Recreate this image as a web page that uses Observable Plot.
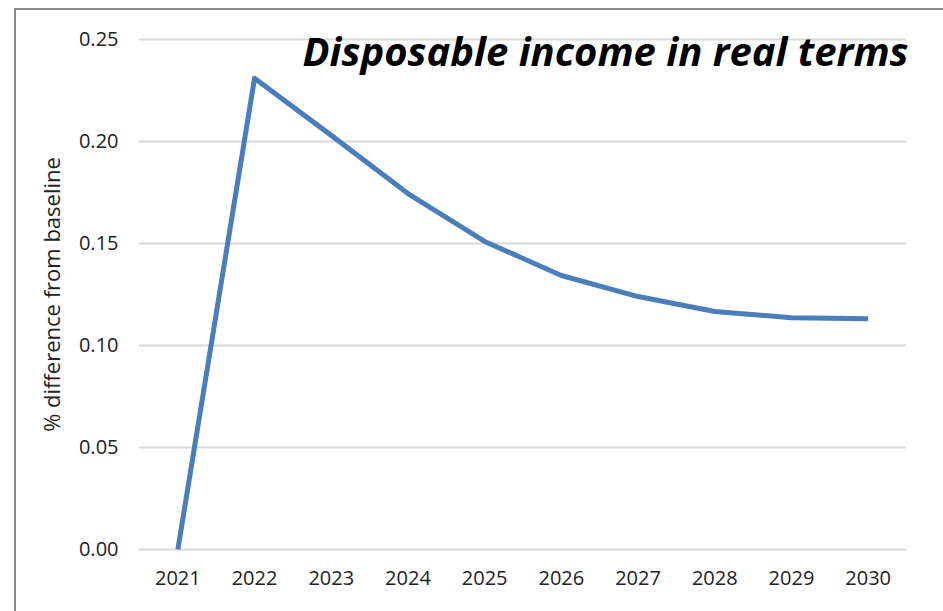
<!DOCTYPE html>
<html>
<head>
<meta charset="utf-8">
<script src="https://cdn.jsdelivr.net/npm/d3@7"></script>
<script src="https://cdn.jsdelivr.net/npm/@observablehq/plot@0.6"></script>
<style>
  html, body { margin: 0; padding: 0; background: #fff; overflow: hidden; width: 943px; height: 611px; }
  #wrap { position: relative; width: 943px; height: 611px; }
  #border { position: absolute; left: 14px; top: 8px; width: 1000px; height: 700px;
            border-left: 2px solid #8a8a8a; border-top: 2px solid #8a8a8a; }
  #chart { position: absolute; left: 0; top: 0; }
</style>
</head>
<body>
<div id="wrap"><div id="border"></div><div id="chart"></div></div>
<script>
const years = ["2021","2022","2023","2024","2025","2026","2027","2028","2029","2030"];
const values = [0.000, 0.231, 0.203, 0.1745, 0.151, 0.1343, 0.124, 0.1167, 0.1136, 0.1131];
const yTicks = [0, 0.05, 0.10, 0.15, 0.20, 0.25];
const titleText = ["Disposable income in real terms"];
const yLabel = "% difference from baseline";

const data = years.map((y, i) => ({year: y, value: values[i]}));

const chart = Plot.plot({
  width: 943,
  height: 611,
  marginLeft: 139,
  marginRight: 37,
  marginTop: 39,
  marginBottom: 62,
  style: {fontFamily: "'Open Sans', sans-serif", fontSize: "20px", color: "#222", background: "transparent"},
  x: {type: "point", domain: years, padding: 0.5, round: false},
  y: {domain: [0, 0.25]},
  marks: [
    Plot.gridY(yTicks, {stroke: "#d9d9d9", strokeOpacity: 1, strokeWidth: 2}),
    Plot.axisY(yTicks, {tickSize: 0, tickPadding: 21, tickFormat: d => d.toFixed(2), fontSize: 20,
      label: null}),
    Plot.text([yLabel], {text: d => d, frameAnchor: "left", dx: -87, dy: 0, rotate: -90, textAnchor: "middle",
      lineAnchor: "middle", fontSize: 22, fill: "#222"}),
    Plot.axisX({tickSize: 0, tickPadding: 21, fontSize: 20, label: null}),
    Plot.line(data, {x: "year", y: "value", stroke: "#4a7ebb", strokeWidth: 5, strokeLinejoin: "round", strokeLinecap: "butt"}),
    Plot.text(titleText, {text: d => d, frameAnchor: "top-right", dx: 2, dy: 14, textAnchor: "end", lineAnchor: "middle",
      fontSize: 40, fontWeight: "bold", fontStyle: "italic", fill: "#000"})
  ]
});
document.getElementById("chart").appendChild(chart);
</script>
</body>
</html>
